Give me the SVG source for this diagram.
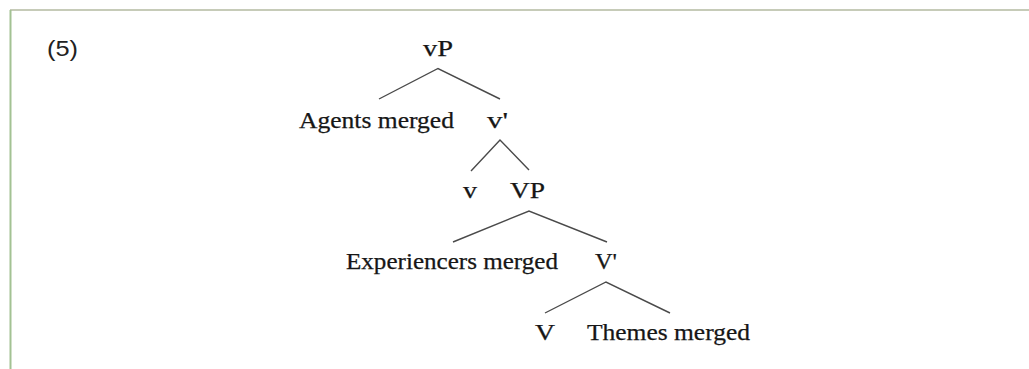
<svg xmlns="http://www.w3.org/2000/svg" width="1029" height="369" viewBox="0 0 1029 369">
  <style>
    .frame-top { stroke: #c6cbb8; stroke-width: 2; }
    .frame-left { stroke: #a3c293; stroke-width: 2; }
    .lbl { font-family: "Liberation Serif", "Times New Roman", serif; font-size: 23px; fill: #161616; stroke: #161616; stroke-width: 0.25; }
    .num { font-family: "Liberation Sans", "Noto Sans", sans-serif; font-size: 22px; fill: #222; }
    .edge { stroke: #4a4a4a; stroke-width: 1.4; fill: none; }
  </style>
  <rect width="1029" height="369" fill="#ffffff"/>
  <line class="frame-top" x1="10" y1="10" x2="1029" y2="10"/>
  <line class="frame-left" x1="10.5" y1="10" x2="10.5" y2="369"/>

  <text class="num" x="47" y="56" textLength="31" lengthAdjust="spacingAndGlyphs">(5)</text>

  <!-- tree branches -->
  <g id="connectors">
    <polyline class="edge" points="379,99 438,68.5 500,99"/>
    <polyline class="edge" points="471,171 500,140 529,170"/>
    <polyline class="edge" points="453,242 529,211 607,242"/>
    <polyline class="edge" points="545,313 606,282 670,313"/>
  </g>

  <g id="n-vP"><text class="lbl" x="423" y="56" textLength="30" lengthAdjust="spacingAndGlyphs">vP</text></g>
  <g id="n-agents"><text class="lbl" x="299" y="127.5" textLength="155" lengthAdjust="spacingAndGlyphs">Agents merged</text></g>
  <g id="n-vbar"><text class="lbl" x="487" y="127.5" textLength="21" lengthAdjust="spacingAndGlyphs">v'</text></g>
  <g id="n-v"><text class="lbl" x="463" y="198" textLength="14" lengthAdjust="spacingAndGlyphs">v</text></g>
  <g id="n-VP"><text class="lbl" x="510" y="198" textLength="35" lengthAdjust="spacingAndGlyphs">VP</text></g>
  <g id="n-experiencers"><text class="lbl" x="346" y="269" textLength="212" lengthAdjust="spacingAndGlyphs">Experiencers merged</text></g>
  <g id="n-Vbar"><text class="lbl" x="595" y="269" textLength="22" lengthAdjust="spacingAndGlyphs">V'</text></g>
  <g id="n-V"><text class="lbl" x="535" y="340" textLength="20" lengthAdjust="spacingAndGlyphs">V</text></g>
  <g id="n-themes"><text class="lbl" x="587" y="340" textLength="163" lengthAdjust="spacingAndGlyphs">Themes merged</text></g>
</svg>
